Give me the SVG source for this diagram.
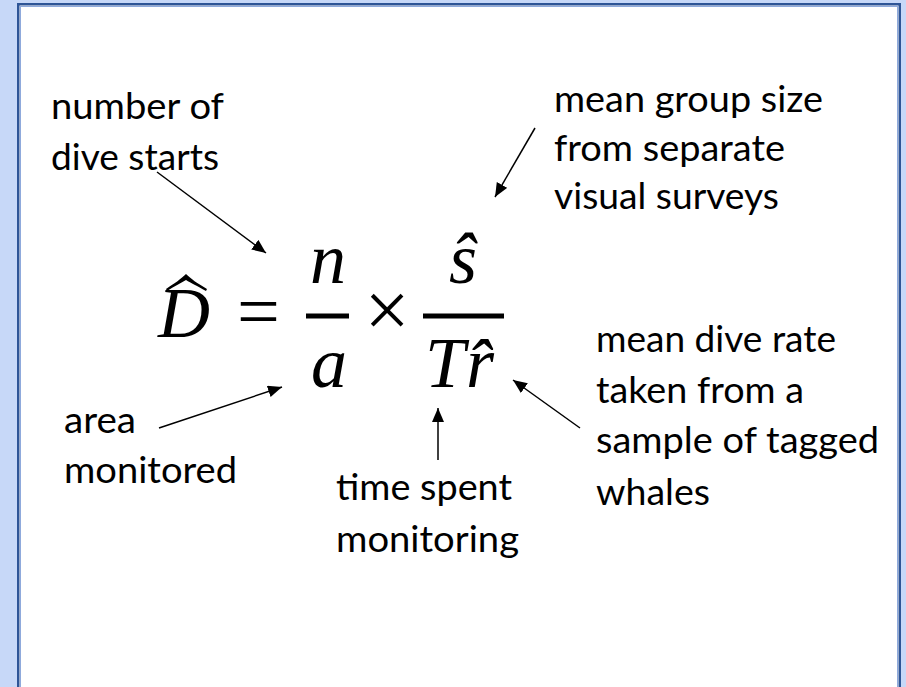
<svg xmlns="http://www.w3.org/2000/svg" width="906" height="687" viewBox="0 0 906 687">
<style>
.lbl{font-family:Lato,"Open Sans","Liberation Sans",sans-serif;font-size:36px;fill:#000}
.m{font-family:"Liberation Serif","DejaVu Serif",serif;font-size:72px;font-style:italic;fill:#000}
.op{font-family:"Liberation Serif","DejaVu Serif",serif;fill:#000}
.conn line{stroke:#000;stroke-width:1.5;marker-end:url(#ah)}
</style>
<defs>
<marker id="ah" markerUnits="userSpaceOnUse" markerWidth="16" markerHeight="14" refX="14" refY="6" orient="auto">
<path d="M0,0 L14,6 L0,12 Z" fill="#000"/>
</marker>
</defs>
<rect x="0" y="0" width="906" height="687" fill="#C7D8F8"/>
<rect x="18.25" y="4.25" width="881.5" height="700" fill="#fff" stroke="#2E5597" stroke-width="2.5"/>
<rect x="20.5" y="6.5" width="877" height="700" fill="none" stroke="#8FAADC" stroke-width="1"/>

<g id="formula">
<text class="m" x="158" y="337">D</text>
<path d="M166,289 C175,283 181,279 186,274 C191,279 197,283 207,289 L206,291 C197,286 191,283 186,280 C181,283 175,286 167,291 Z" fill="#000"/>
<text class="op" x="258.5" y="337" font-size="76" text-anchor="middle">=</text>
<text class="m" x="328" y="283" text-anchor="middle">n</text>
<rect x="306" y="313.5" width="43" height="5" fill="#000"/>
<text class="m" x="329" y="387" text-anchor="middle">a</text>
<text class="op" x="387" y="337" font-size="80" text-anchor="middle">×</text>
<text class="m" x="463" y="283" text-anchor="middle">ŝ</text>
<rect x="423" y="313.5" width="81" height="5" fill="#000"/>
<text class="m" x="425" y="387">T<tspan dx="5">r̂</tspan></text>
</g>

<g id="label-dive-starts">
<text class="lbl" x="51" y="119" textLength="173" lengthAdjust="spacingAndGlyphs">number of</text>
<text class="lbl" x="51" y="170" textLength="168" lengthAdjust="spacingAndGlyphs">dive starts</text>
</g>
<g id="label-group-size">
<text class="lbl" x="554" y="112" textLength="269" lengthAdjust="spacingAndGlyphs">mean group size</text>
<text class="lbl" x="554" y="161" textLength="231" lengthAdjust="spacingAndGlyphs">from separate</text>
<text class="lbl" x="554" y="209" textLength="225" lengthAdjust="spacingAndGlyphs">visual surveys</text>
</g>
<g id="label-area">
<text class="lbl" x="64" y="433" textLength="72" lengthAdjust="spacingAndGlyphs">area</text>
<text class="lbl" x="64" y="483" textLength="173" lengthAdjust="spacingAndGlyphs">monitored</text>
</g>
<g id="label-time">
<text class="lbl" x="336" y="500" textLength="176" lengthAdjust="spacingAndGlyphs">time spent</text>
<text class="lbl" x="336" y="552" textLength="183" lengthAdjust="spacingAndGlyphs">monitoring</text>
</g>
<g id="label-dive-rate">
<text class="lbl" x="596" y="352" textLength="240" lengthAdjust="spacingAndGlyphs">mean dive rate</text>
<text class="lbl" x="596" y="403" textLength="208" lengthAdjust="spacingAndGlyphs">taken from a</text>
<text class="lbl" x="596" y="453" textLength="283" lengthAdjust="spacingAndGlyphs">sample of tagged</text>
<text class="lbl" x="596" y="505" textLength="114" lengthAdjust="spacingAndGlyphs">whales</text>
</g>

<g id="connectors" class="conn">
<line x1="157" y1="172" x2="266" y2="253"/>
<line x1="535" y1="128" x2="495" y2="197"/>
<line x1="159" y1="428" x2="282" y2="387"/>
<line x1="438" y1="460" x2="438" y2="408"/>
<line x1="580" y1="428" x2="513" y2="380"/>
</g>
</svg>
